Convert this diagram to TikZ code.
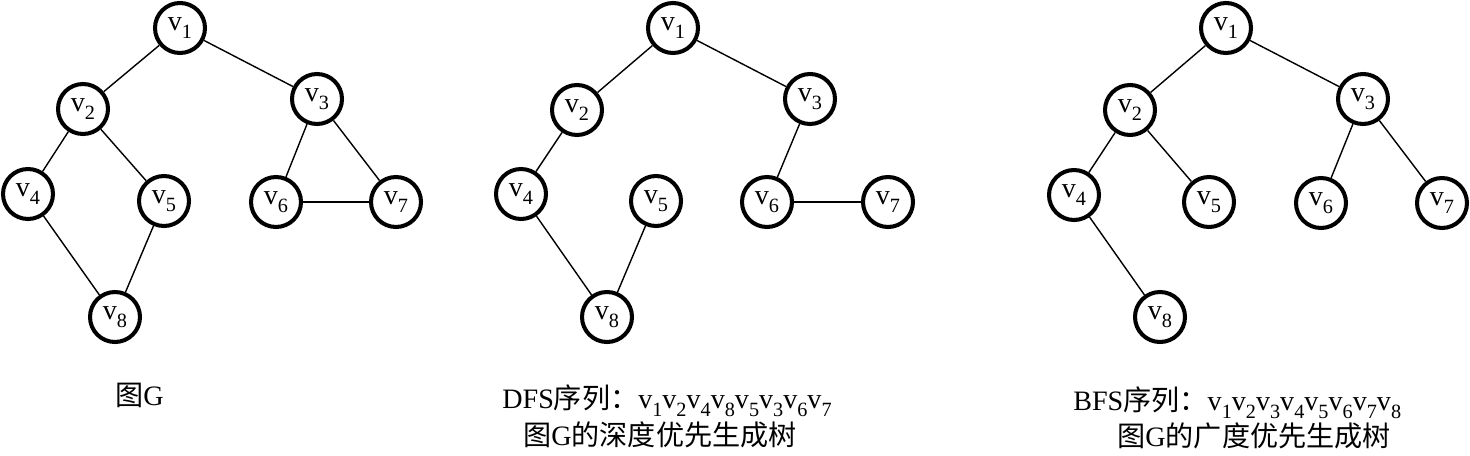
\documentclass[tikz,border=0pt]{standalone}
\usepackage{fontspec}
\setmainfont{Liberation Serif}
\newfontfamily\cjk{Noto Sans CJK SC}
\usepackage{graphicx}
\usepackage{tikz}
\usetikzlibrary{positioning}

\newcommand{\vx}[1]{v\raisebox{-0.65ex}{\scalebox{0.72}{#1}}}

\begin{document}
\begin{tikzpicture}[
  x=0.02cm, y=-0.02cm,
  vert/.style={draw, circle, line width=2.3pt, minimum size=1cm, inner sep=0pt, font=\fontsize{16}{18}\selectfont},
  link/.style={line width=0.8pt},
  caption/.style={anchor=base west, inner sep=0pt, font=\fontsize{16}{18}\selectfont}
]
\useasboundingbox (0,0) rectangle (1470,456);

% graph G
\node[vert] (g1) at (180,28) {\vx{1}};
\node[vert] (g2) at (83,109) {\vx{2}};
\node[vert] (g3) at (317,99) {\vx{3}};
\node[vert] (g4) at (28,194) {\vx{4}};
\node[vert] (g5) at (164,201) {\vx{5}};
\node[vert] (g6) at (276,202) {\vx{6}};
\node[vert] (g7) at (396,202) {\vx{7}};
\node[vert] (g8) at (115,317) {\vx{8}};

\draw[link] (g1) -- (g2);
\draw[link] (g1) -- (g3);
\draw[link] (g2) -- (g4);
\draw[link] (g2) -- (g5);
\draw[link] (g4) -- (g8);
\draw[link] (g5) -- (g8);
\draw[link] (g3) -- (g6);
\draw[link] (g3) -- (g7);
\draw[link] (g6) -- (g7);

\node[caption] (gcap) at (115,405) {{\cjk 图}G};

% DFS tree
\node[vert] (d1) at (673,28) {\vx{1}};
\node[vert] (d2) at (577,110) {\vx{2}};
\node[vert] (d3) at (810,99) {\vx{3}};
\node[vert] (d4) at (521,194) {\vx{4}};
\node[vert] (d5) at (656,201) {\vx{5}};
\node[vert] (d6) at (767,202) {\vx{6}};
\node[vert] (d7) at (888,202) {\vx{7}};
\node[vert] (d8) at (607,317) {\vx{8}};

\draw[link] (d1) -- (d2);
\draw[link] (d1) -- (d3);
\draw[link] (d2) -- (d4);
\draw[link] (d4) -- (d8);
\draw[link] (d5) -- (d8);
\draw[link] (d3) -- (d6);
\draw[link] (d6) -- (d7);

\node[caption] (dseq) at (502,408) {DFS{\cjk 序列：}\vx{1}\vx{2}\vx{4}\vx{8}\vx{5}\vx{3}\vx{6}\vx{7}};
\node[caption] (dcap) at (523,445) {{\cjk 图}G{\cjk 的深度优先生成树}};

% BFS tree
\node[vert] (b1) at (1226,28) {\vx{1}};
\node[vert] (b2) at (1130,110) {\vx{2}};
\node[vert] (b3) at (1363,99) {\vx{3}};
\node[vert] (b4) at (1074,195) {\vx{4}};
\node[vert] (b5) at (1209,202) {\vx{5}};
\node[vert] (b6) at (1321,203) {\vx{6}};
\node[vert] (b7) at (1442,203) {\vx{7}};
\node[vert] (b8) at (1160,317) {\vx{8}};

\draw[link] (b1) -- (b2);
\draw[link] (b1) -- (b3);
\draw[link] (b2) -- (b4);
\draw[link] (b2) -- (b5);
\draw[link] (b4) -- (b8);
\draw[link] (b3) -- (b6);
\draw[link] (b3) -- (b7);

\node[caption] (bseq) at (1073,410) {BFS{\cjk 序列：}\vx{1}\vx{2}\vx{3}\vx{4}\vx{5}\vx{6}\vx{7}\vx{8}};
\node[caption] (bcap) at (1117,446) {{\cjk 图}G{\cjk 的广度优先生成树}};

\end{tikzpicture}
\end{document}
